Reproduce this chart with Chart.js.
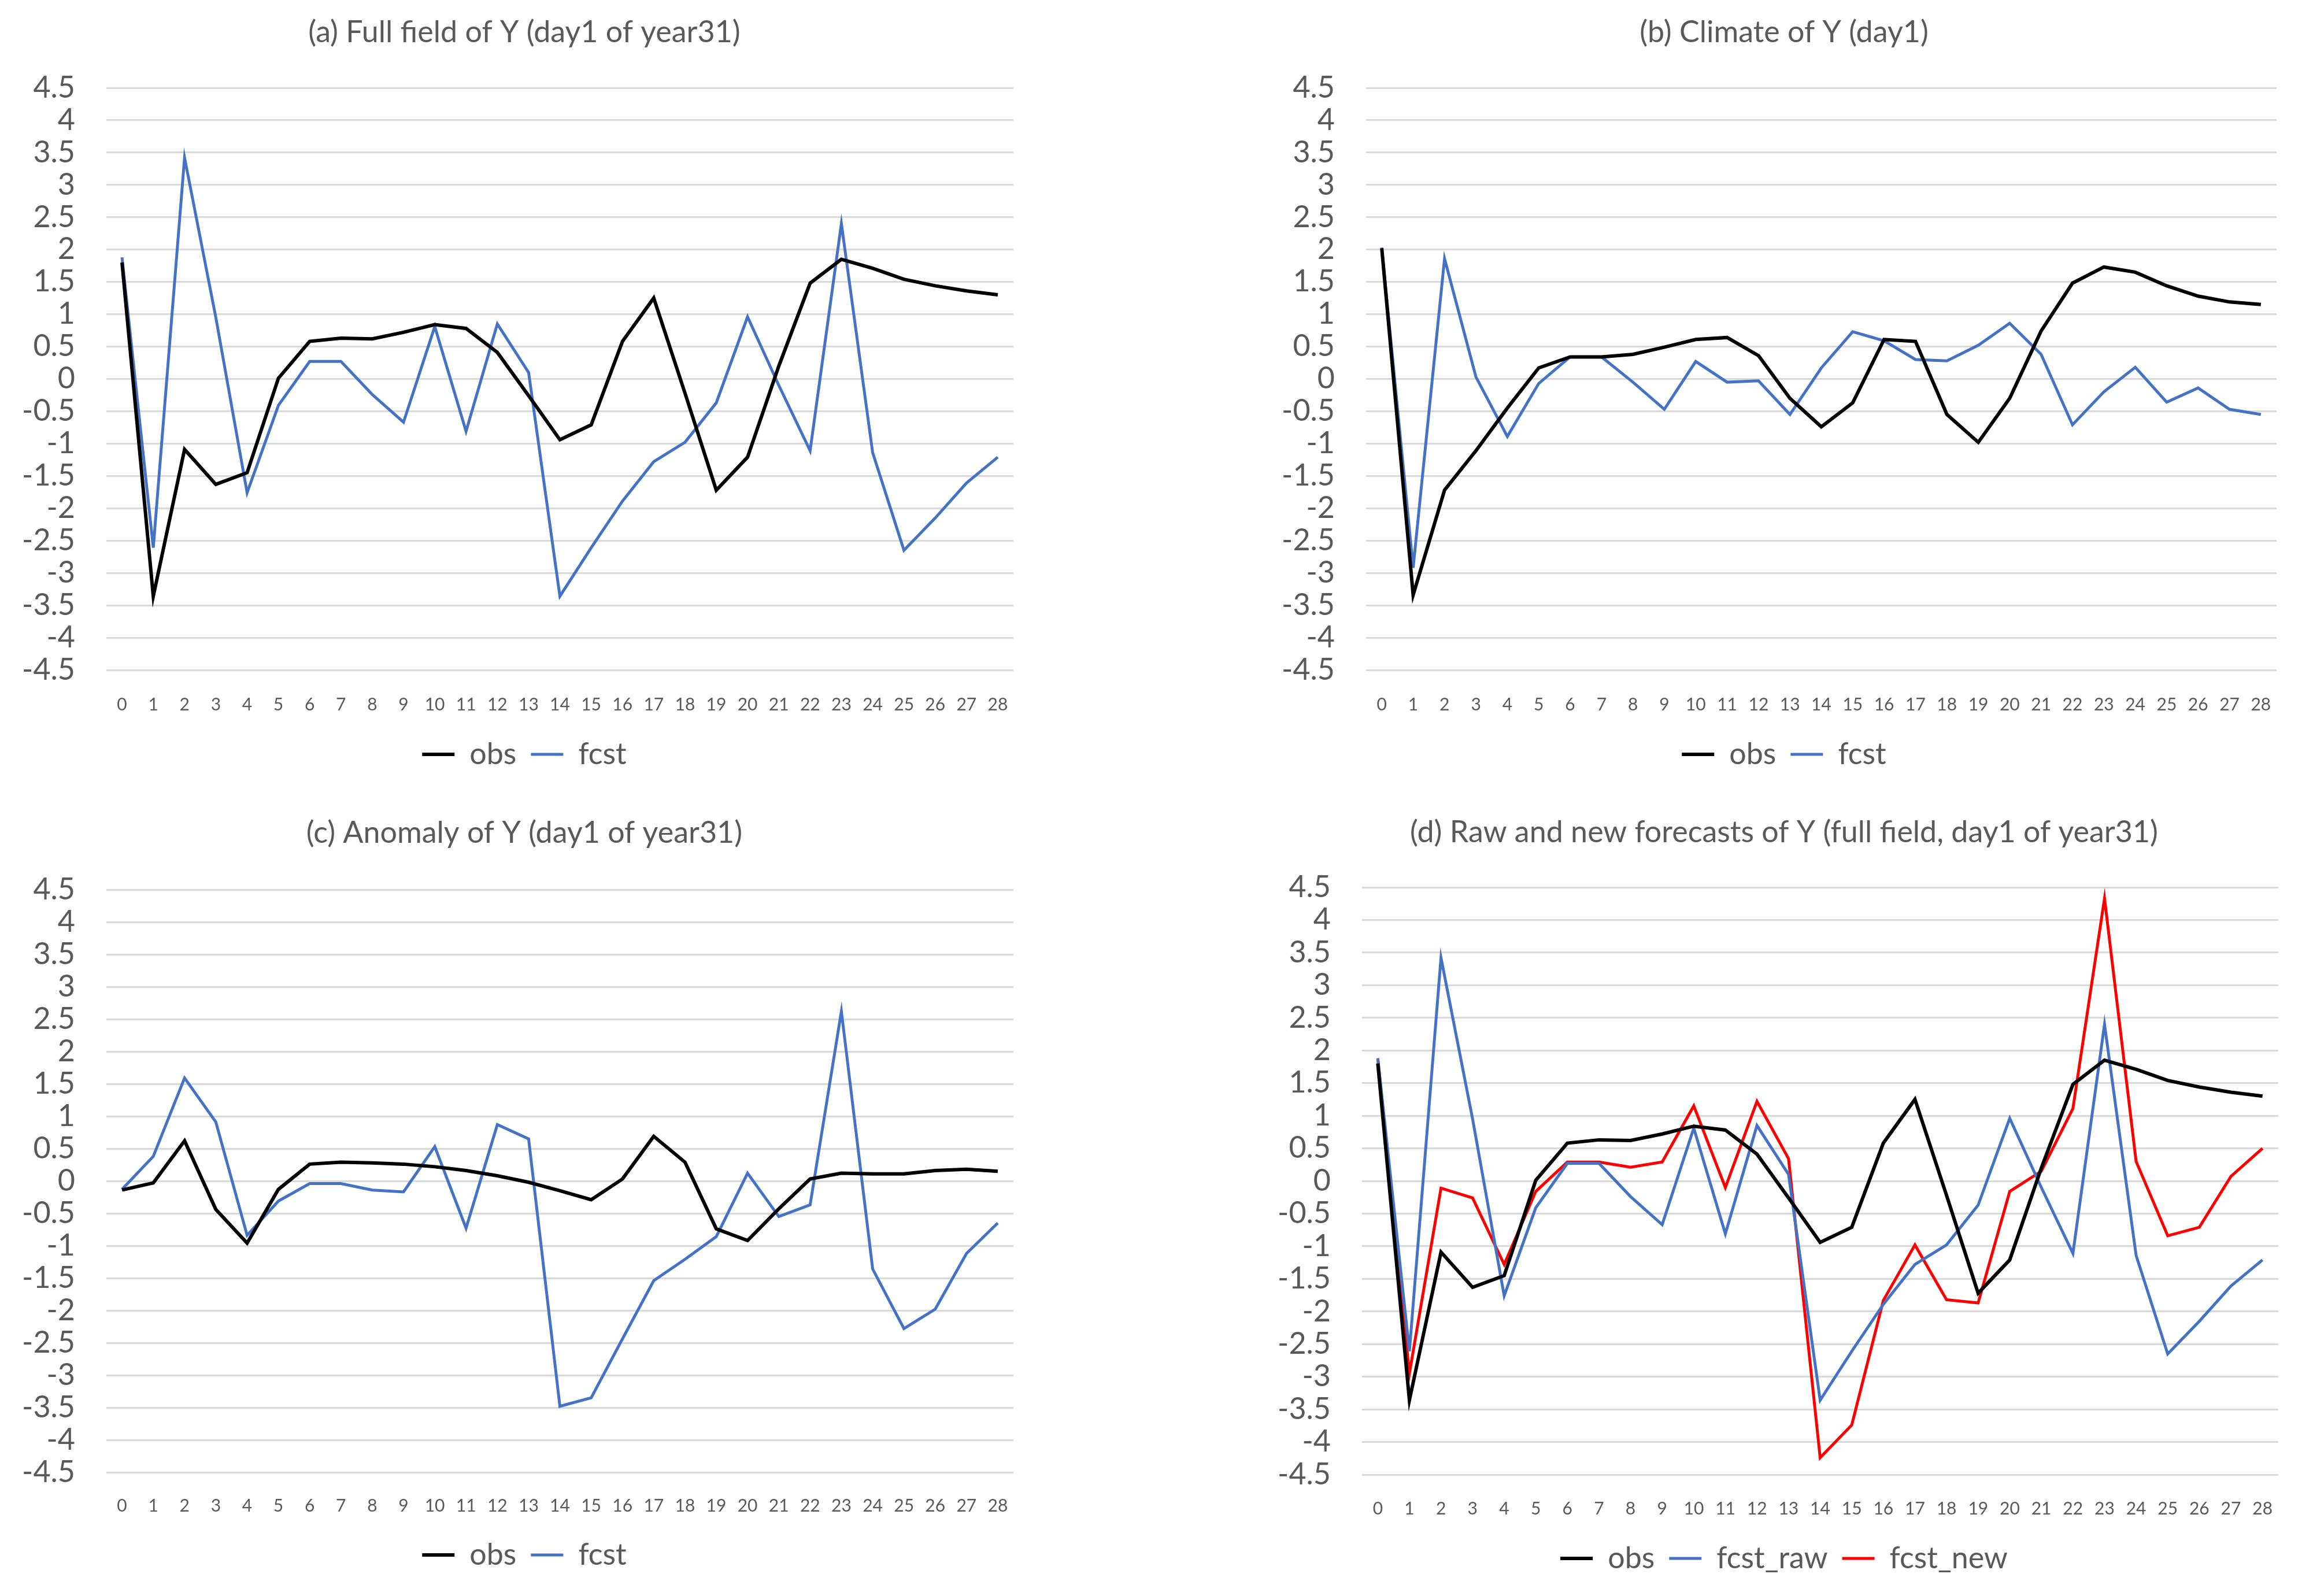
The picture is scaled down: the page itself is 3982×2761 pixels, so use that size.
<!DOCTYPE html>
<html>
<head>
<meta charset="utf-8">
<script src="https://cdn.jsdelivr.net/npm/chart.js@4.4.1/dist/chart.umd.min.js"></script>
<style>
  body { margin: 0; background: #fff; }
  #page { position: relative; width: 3982px; height: 2761px; }
  .panel { position: absolute; }
</style>
</head>
<body>
<div id="page"></div>
<script>
const days = ['0','1','2','3','4','5','6','7','8','9','10','11','12','13','14','15','16','17','18','19','20','21','22','23','24','25','26','27','28'];

// (a) full field
const fullObs = [1.8, -3.36, -1.09, -1.63, -1.45, 0.01, 0.58, 0.63, 0.62, 0.72, 0.84, 0.78, 0.41, -0.26, -0.94, -0.71, 0.58, 1.25, -0.22, -1.72, -1.21, 0.2, 1.48, 1.85, 1.71, 1.54, 1.44, 1.36, 1.3];
const fullFcst = [1.88, -2.61, 3.42, 0.95, -1.76, -0.41, 0.27, 0.27, -0.24, -0.67, 0.81, -0.81, 0.85, 0.1, -3.36, -2.61, -1.89, -1.28, -0.98, -0.37, 0.96, -0.1, -1.11, 2.4, -1.14, -2.65, -2.15, -1.61, -1.21];

// (b) climate
const climObs = [2.02, -3.34, -1.72, -1.11, -0.45, 0.17, 0.34, 0.34, 0.38, 0.49, 0.61, 0.64, 0.36, -0.3, -0.74, -0.37, 0.61, 0.58, -0.55, -0.98, -0.3, 0.74, 1.48, 1.73, 1.65, 1.44, 1.28, 1.19, 1.15];
const climFcst = [2.03, -2.92, 1.86, 0.03, -0.89, -0.07, 0.34, 0.34, -0.05, -0.47, 0.27, -0.05, -0.03, -0.55, 0.17, 0.73, 0.59, 0.3, 0.28, 0.52, 0.86, 0.38, -0.71, -0.2, 0.18, -0.36, -0.14, -0.47, -0.55];

// (c) anomaly
const anomObs = [-0.14, -0.03, 0.62, -0.44, -0.96, -0.13, 0.26, 0.29, 0.28, 0.26, 0.22, 0.16, 0.08, -0.02, -0.15, -0.29, 0.03, 0.69, 0.29, -0.74, -0.92, -0.43, 0.03, 0.12, 0.11, 0.11, 0.16, 0.18, 0.15];
const anomFcst = [-0.13, 0.38, 1.59, 0.91, -0.84, -0.31, -0.04, -0.04, -0.14, -0.17, 0.53, -0.73, 0.87, 0.65, -3.48, -3.35, -2.44, -1.54, -1.21, -0.86, 0.12, -0.55, -0.37, 2.62, -1.36, -2.28, -1.98, -1.12, -0.65];

// (d) new forecast (obs and raw are the full field series)
const fcstNew = [1.88, -2.95, -0.11, -0.26, -1.28, -0.16, 0.29, 0.29, 0.21, 0.29, 1.15, -0.1, 1.22, 0.34, -4.24, -3.74, -1.83, -0.98, -1.82, -1.87, -0.16, 0.15, 1.11, 4.33, 0.3, -0.84, -0.71, 0.07, 0.5];

const BLACK = '#000000';
const BLUE = '#4472C4';
const RED = '#FF0000';
const TEXT = '#595959';
const FONT = "Lato, 'Open Sans', sans-serif";

const titleSize = 52, tickSize = 30, yTickSize = 52, legendSize = 52, legendPad = 25;

function series(label, data, color, width) {
    return { label: label, data: data, borderColor: color, backgroundColor: color,
             borderWidth: width, pointRadius: 0, tension: 0, fill: false };
}

// box: canvas left/top/width, width of the left axis, blank strip on the right,
// and the target y positions of title, plot top/bottom, x labels and legend
function makePanel(title, datasets, box) {
    const h = box.legendY + legendSize / 2 + 10 - box.top;
    const div = document.createElement('div');
    div.className = 'panel';
    div.style.left = box.left + 'px';
    div.style.top = box.top + 'px';
    div.style.width = box.width + 'px';
    div.style.height = h + 'px';
    const canvas = document.createElement('canvas');
    div.appendChild(canvas);
    document.getElementById('page').appendChild(div);

    new Chart(canvas.getContext('2d'), {
        type: 'line',
        data: { labels: days, datasets: datasets },
        options: {
            responsive: true,
            maintainAspectRatio: false,
            animation: false,
            devicePixelRatio: 1,
            layout: { padding: 0 },
            plugins: {
                tooltip: { enabled: false },
                title: {
                    display: true,
                    text: title,
                    color: TEXT,
                    font: { family: FONT, size: titleSize, weight: 'normal' },
                    padding: {
                        top: box.titleY - box.top - 0.6 * titleSize,
                        bottom: box.areaTop - box.titleY - 0.6 * titleSize
                    }
                },
                legend: {
                    position: 'bottom',
                    labels: {
                        color: TEXT,
                        font: { family: FONT, size: legendSize },
                        usePointStyle: true,
                        pointStyle: 'line',
                        pointStyleWidth: 56,
                        padding: legendPad
                    }
                }
            },
            scales: {
                x: {
                    offset: true,
                    grid: { display: false },
                    border: { display: false },
                    ticks: {
                        color: TEXT,
                        font: { family: FONT, size: tickSize },
                        maxRotation: 0,
                        autoSkip: false,
                        padding: box.tickY - box.areaBottom - 0.6 * tickSize
                    },
                    afterFit: function (scale) {
                        scale.height = box.legendY - box.areaBottom - legendPad - legendSize / 2;
                    }
                },
                y: {
                    min: -4.5,
                    max: 4.5,
                    grid: { color: '#D9D9D9', lineWidth: 3, drawTicks: false },
                    border: { display: false },
                    ticks: {
                        stepSize: 0.5,
                        autoSkip: false,
                        color: TEXT,
                        font: { family: FONT, size: yTickSize },
                        padding: 54,
                        callback: function (value) { return String(value); }
                    },
                    afterFit: function (scale) {
                        scale.width = box.yW;
                    }
                },
                // empty strip on the right so the title stays centred on the whole panel
                spacer: {
                    type: 'linear',
                    position: 'right',
                    grid: { display: false },
                    border: { display: false },
                    ticks: { display: false },
                    afterFit: function (scale) {
                        scale.width = box.rightW;
                    }
                }
            }
        }
    });
}

makePanel('(a) Full field of Y (day1 of year31)',
    [series('obs', fullObs, BLACK, 6), series('fcst', fullFcst, BLUE, 5)],
    { left: 0, top: 0, width: 1814, yW: 184, rightW: 61, titleY: 56, areaTop: 152, areaBottom: 1159, tickY: 1211, legendY: 1305 });

makePanel('(b) Climate of Y (day1)',
    [series('obs', climObs, BLACK, 6), series('fcst', climFcst, BLUE, 5)],
    { left: 2190, top: 0, width: 1792, yW: 173, rightW: 44, titleY: 56, areaTop: 152, areaBottom: 1159, tickY: 1211, legendY: 1305 });

makePanel('(c) Anomaly of Y (day1 of year31)',
    [series('obs', anomObs, BLACK, 6), series('fcst', anomFcst, BLUE, 5)],
    { left: 0, top: 1384, width: 1814, yW: 184, rightW: 61, titleY: 1441, areaTop: 1539, areaBottom: 2547, tickY: 2597, legendY: 2690 });

makePanel('(d) Raw and new forecasts of Y (full field, day1 of year31)',
    [series('obs', fullObs, BLACK, 6), series('fcst_raw', fullFcst, BLUE, 5), series('fcst_new', fcstNew, RED, 5)],
    { left: 2190, top: 1381, width: 1792, yW: 166, rightW: 41, titleY: 1440, areaTop: 1535, areaBottom: 2551, tickY: 2602, legendY: 2696 });
</script>
</body>
</html>
